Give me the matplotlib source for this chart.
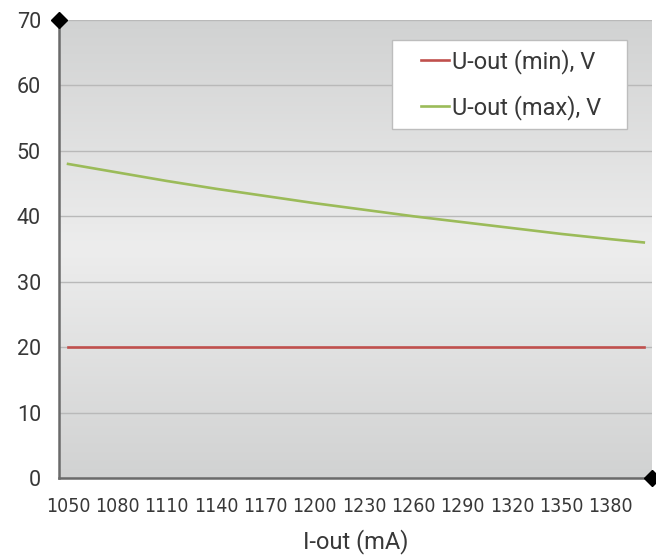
import numpy as np
import matplotlib
matplotlib.use("Agg")
import matplotlib.pyplot as plt
from matplotlib.colors import LinearSegmentedColormap
from matplotlib.patches import Rectangle

plt.rcParams['font.family'] = ['Roboto', 'DejaVu Sans']

current = [1050, 1080, 1110, 1140, 1170, 1200, 1230, 1260, 1290, 1320, 1350, 1380, 1400]
u_min = [20, 20, 20, 20, 20, 20, 20, 20, 20, 20, 20, 20, 20]
u_max = [48.0, 46.7, 45.4, 44.2, 43.1, 42.0, 41.0, 40.0, 39.1, 38.2, 37.3, 36.5, 36.0]
xticks = [1050, 1080, 1110, 1140, 1170, 1200, 1230, 1260, 1290, 1320, 1350, 1380]
yticks = [0, 10, 20, 30, 40, 50, 60, 70]

W, H = 656, 556
fig = plt.figure(figsize=(W/100, H/100), dpi=100)
ax = fig.add_axes([59/W, 1-478/H, (652-59)/W, (478-20)/H])

xmin, xmax = 1044.5, 1405
ax.set_xlim(xmin, xmax)
ax.set_ylim(0, 70)

# gradient background
cmap = LinearSegmentedColormap.from_list('bg', ['#d1d2d2', '#ededed', '#d1d2d2'])
grad = np.linspace(0, 1, 256).reshape(-1, 1)
ax.imshow(grad, cmap=cmap, aspect='auto', extent=[0, 1, 0, 1],
          transform=ax.transAxes, zorder=0)

ax.set_yticks(yticks)
ax.set_xticks(xticks)
ax.grid(axis='y', color='#b9b9b9', linewidth=1.0, zorder=1)
ax.set_axisbelow(True)

ax.plot(current, u_min, color='#c0504d', linewidth=1.9, label='U-out (min), V', zorder=3)
ax.plot(current, u_max, color='#9bbb59', linewidth=1.9, label='U-out (max), V', zorder=3)

for s in ['top', 'right']:
    ax.spines[s].set_visible(False)
for s in ['left', 'bottom']:
    ax.spines[s].set_color('#6a6a6a')
    ax.spines[s].set_linewidth(1.8)
    ax.spines[s].set_zorder(4)

ax.plot([xmin], [70], marker='D', color='black', markersize=8, clip_on=False, zorder=5)
ax.plot([xmax], [0], marker='D', color='black', markersize=8, clip_on=False, zorder=5)

ax.tick_params(axis='both', length=0, colors='#383838')
ax.tick_params(axis='y', pad=13, labelsize=15.5)
ax.tick_params(axis='x', pad=14, labelsize=14)
for lab in ax.get_xticklabels():
    lab.set_family(['DejaVu Sans'])
    lab.set_fontstretch('condensed')

ax.set_xlabel('I-out (mA)', fontsize=17, color='#383838', labelpad=9)

# legend frame drawn in figure pixels
rect = Rectangle((392/W, 1-129/H), (627-392)/W, (129-40)/H,
                 transform=fig.transFigure, facecolor='white',
                 edgecolor='#bdbdbd', linewidth=1.0, zorder=6, clip_on=False)
ax.add_artist(rect)
leg = ax.legend(loc='center', bbox_to_anchor=(511/W, 1-84.5/H),
                bbox_transform=fig.transFigure, fontsize=17, frameon=False,
                handlelength=1.2, handletextpad=0.1, borderpad=0.0, labelspacing=0.9,
                borderaxespad=0)
leg.set_zorder(7)
for t in leg.get_texts():
    t.set_color('#383838')

fig.savefig('out.png', dpi=100)
